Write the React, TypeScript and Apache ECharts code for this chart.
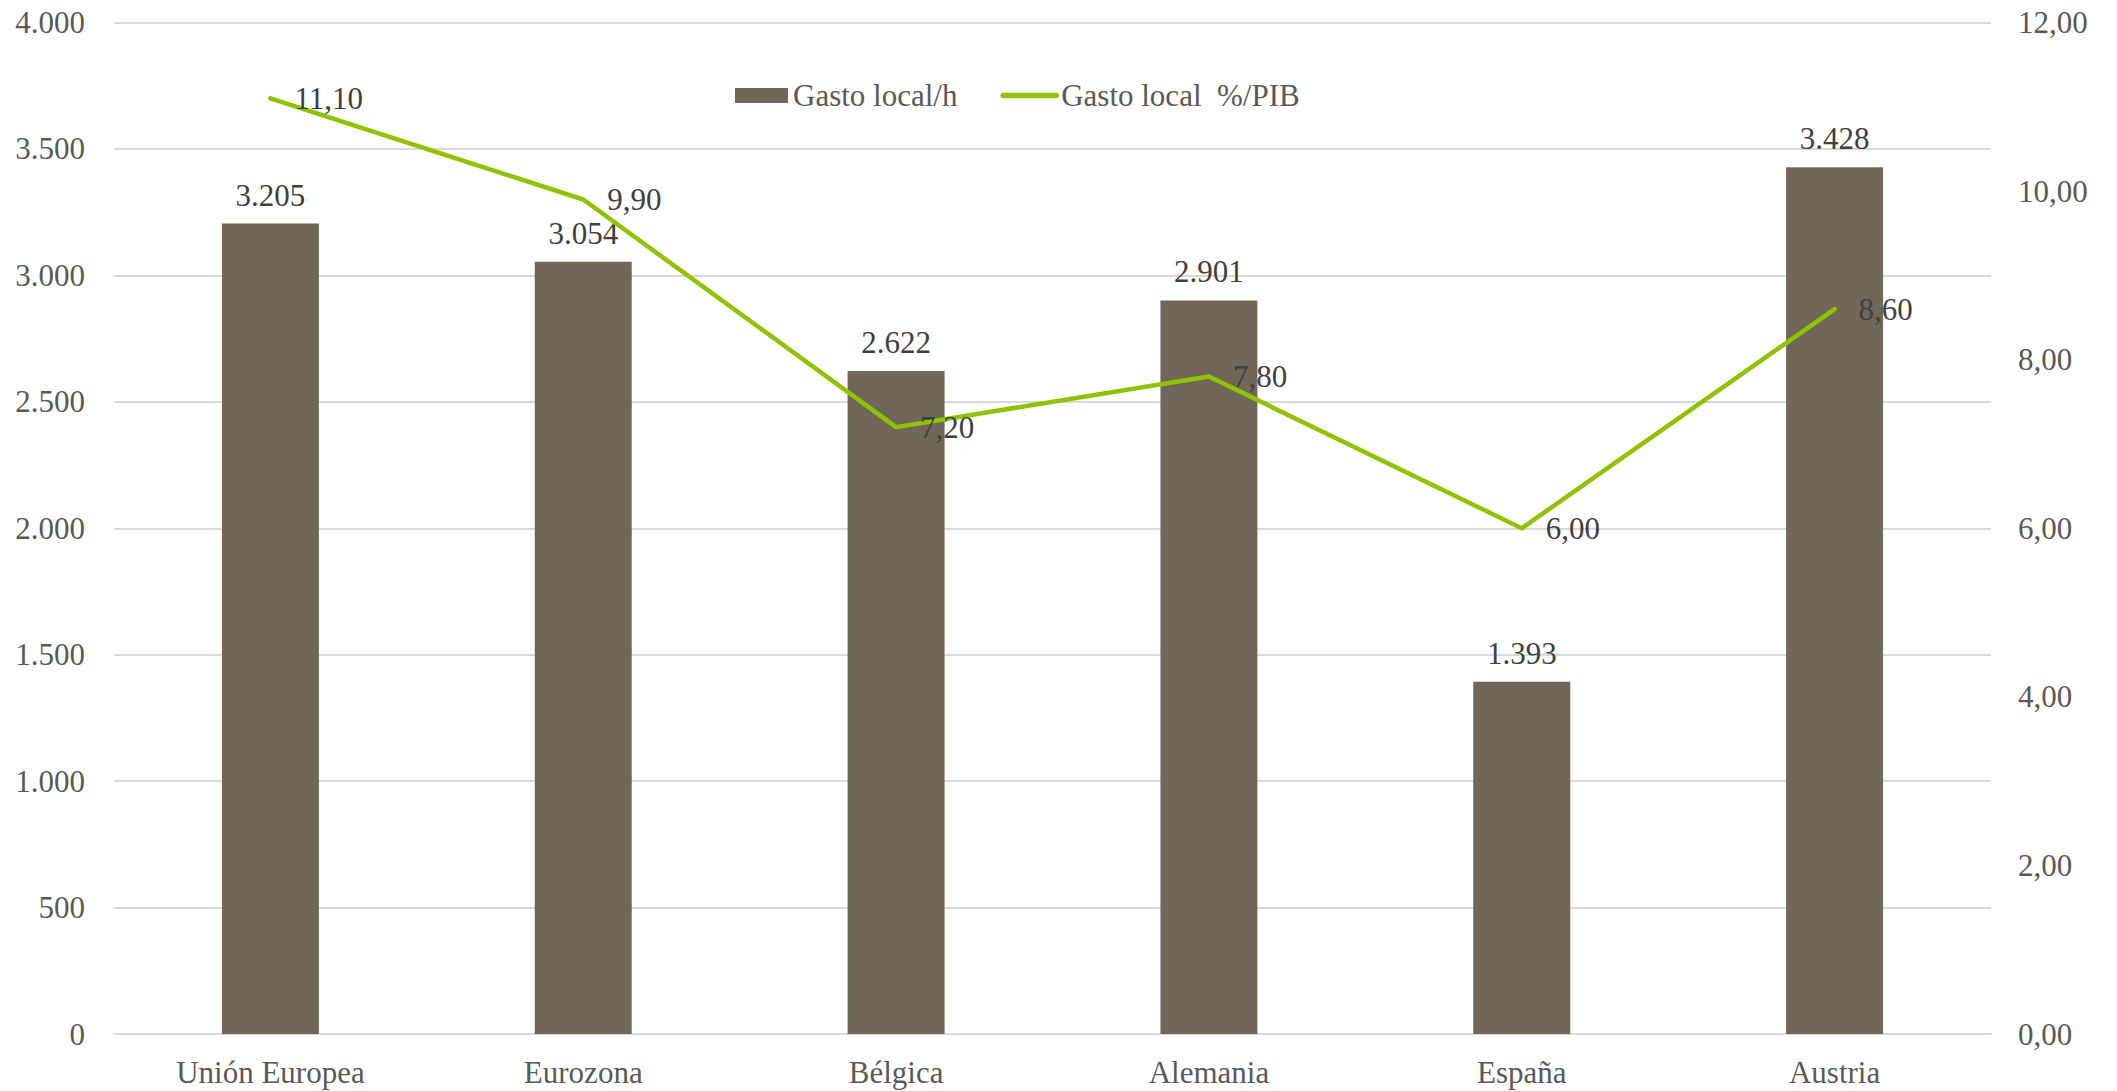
import React, { useEffect, useRef } from "react";
import * as echarts from "echarts";

const categories = ["Unión Europea", "Eurozona", "Bélgica", "Alemania", "España", "Austria"];
const gastoLocalHab = [3205, 3054, 2622, 2901, 1393, 3428];
const gastoLocalPib = [11.1, 9.9, 7.2, 7.8, 6.0, 8.6];
const seriesNames = ["Gasto local/h", "Gasto local  %/PIB"];

const FONT = '"Liberation Serif", "Times New Roman", serif';
const BAR_COLOR = "#716758";
const LINE_COLOR = "#8FC200";
const GRID_COLOR = "#D9D9D9";
const AXIS_TEXT = "#595959";
const LABEL_TEXT = "#404040";

const thousands = (v: number) =>
  Math.round(v).toString().replace(/\B(?=(\d{3})+(?!\d))/g, ".");
const decimalComma = (v: number) => v.toFixed(2).replace(".", ",");

export default function App() {
  const ref = useRef<HTMLDivElement>(null);

  useEffect(() => {
    if (!ref.current) return;
    const chart = echarts.init(ref.current, undefined, { renderer: "svg" });
    chart.setOption({
      animation: false,
      backgroundColor: "#ffffff",
      textStyle: { fontFamily: FONT },
      grid: { left: 114, right: 126, top: 22.5, bottom: 57 },
      legend: {
        left: 730,
        top: 75,
        itemWidth: 53,
        itemHeight: 15,
        itemGap: 43,
        textStyle: { fontFamily: FONT, fontSize: 31, color: AXIS_TEXT },
        data: [
          { name: seriesNames[0], icon: "rect" },
          {
            name: seriesNames[1],
            itemStyle: { opacity: 0 },
            lineStyle: { width: 5.5, cap: "round", color: LINE_COLOR },
          },
        ],
      },
      xAxis: {
        type: "category",
        data: categories,
        axisTick: { show: false },
        axisLine: { lineStyle: { color: GRID_COLOR, width: 2 } },
        axisLabel: { fontFamily: FONT, fontSize: 31, color: AXIS_TEXT, margin: 23 },
      },
      yAxis: [
        {
          type: "value",
          min: 0,
          max: 4000,
          interval: 500,
          axisLine: { show: false },
          axisTick: { show: false },
          splitLine: { lineStyle: { color: GRID_COLOR, width: 2 } },
          axisLabel: {
            fontFamily: FONT,
            fontSize: 31,
            color: AXIS_TEXT,
            margin: 29,
            formatter: (v: number) => thousands(v),
          },
        },
        {
          type: "value",
          min: 0,
          max: 12,
          interval: 2,
          axisLine: { show: false },
          axisTick: { show: false },
          splitLine: { show: false },
          axisLabel: {
            fontFamily: FONT,
            fontSize: 31,
            color: AXIS_TEXT,
            margin: 27,
            formatter: (v: number) => decimalComma(v),
          },
        },
      ],
      series: [
        {
          name: seriesNames[0],
          type: "bar",
          data: gastoLocalHab,
          barWidth: "31%",
          itemStyle: { color: BAR_COLOR },
          label: {
            show: true,
            position: "top",
            distance: 13,
            fontFamily: FONT,
            fontSize: 31,
            color: LABEL_TEXT,
            formatter: (p: any) => thousands(p.value),
          },
        },
        {
          name: seriesNames[1],
          type: "line",
          yAxisIndex: 1,
          data: gastoLocalPib,
          symbol: "circle",
          symbolSize: 4,
          itemStyle: { color: LINE_COLOR },
          lineStyle: { color: LINE_COLOR, width: 4.5, cap: "round", join: "round" },
          label: {
            show: true,
            position: "right",
            distance: 22,
            fontFamily: FONT,
            fontSize: 31,
            color: LABEL_TEXT,
            formatter: (p: any) => decimalComma(p.value),
          },
        },
      ],
    });
    return () => chart.dispose();
  }, []);

  return (
    <div
      ref={ref}
      style={{ position: "fixed", left: 0, top: 0, width: 2117, height: 1091, background: "#fff" }}
    />
  );
}
